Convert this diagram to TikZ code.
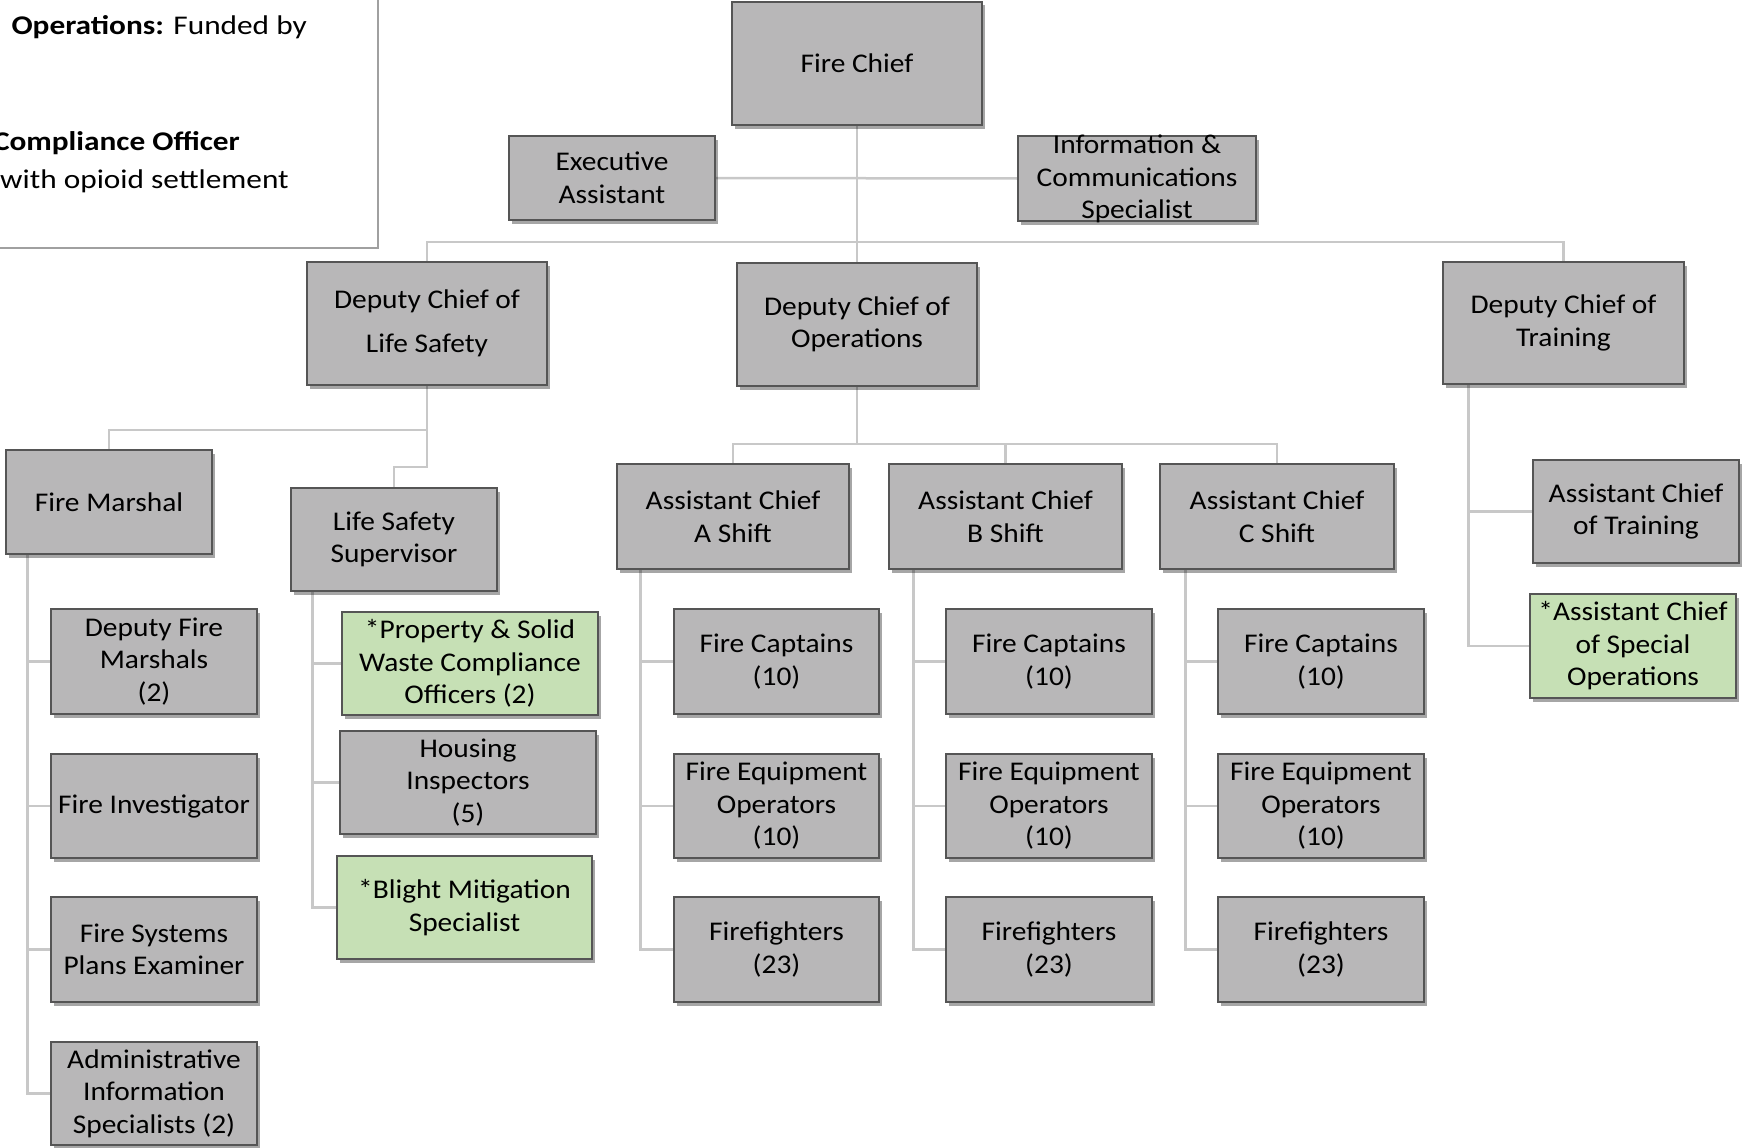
\documentclass[tikz,border=0pt]{standalone}
\usepackage{fontspec}
\setmainfont[FakeStretch=1.09]{Carlito}
\newfontfamily\legendfont[FakeStretch=1.16]{Carlito}
\usetikzlibrary{shadows,backgrounds}
\definecolor{boxgray}{RGB}{184,183,184}
\definecolor{boxgreen}{RGB}{198,224,181}
\definecolor{edgegray}{RGB}{85,85,85}
\definecolor{linkgray}{RGB}{200,200,200}
\definecolor{legendgray}{RGB}{160,160,160}
\tikzset{
  orgbox/.style={draw=edgegray, line width=1.2pt, fill=boxgray, inner sep=0pt, align=center,
    font=\fontsize{27}{32.5}\selectfont,
    drop shadow={shadow xshift=2.5pt, shadow yshift=-3.5pt, opacity=0.35, fill=black}},
  greenbox/.style={orgbox, fill=boxgreen},
  orgtext/.style={inner sep=0pt, align=center, font=\fontsize{27}{32.5}\selectfont},
  legendtext/.style={inner sep=0pt, font=\legendfont\fontsize{27}{32.5}\selectfont},
  link/.style={draw=linkgray, line width=2.5pt},
}
\begin{document}
\begin{tikzpicture}[x=1pt, y=-1pt]
\clip (0,0) rectangle (1743,1148);

% legend
\draw[legendgray, line width=2pt] (-10,-10) rectangle (378,248);
\node[legendtext, anchor=base east] (leg1) at (307,35) {\textbf{Operations:} Funded by};
\node[legendtext, anchor=base east] (leg2) at (240,150) {\textbf{Compliance Officer}};
\node[legendtext, anchor=base east] (leg3) at (289,188) {with opioid settlement};

% top level
\node[orgbox, minimum width=250pt, minimum height=123pt] (chief) at (857,63.5) {Fire Chief};
\node[orgbox, minimum width=206pt, minimum height=84pt] (exec) at (612,178) {Executive\\Assistant};
\node[orgbox, minimum width=238pt, minimum height=85pt] (info) at (1137,178.5) {};
\node[orgtext] (infotext) at (1137,179) {Information \&\\Communications\\Specialist};

% deputy chiefs
\node[orgbox, minimum width=240pt, minimum height=123pt] (dcls) at (427,323.5) {Deputy Chief of\\[12pt]Life Safety};
\node[orgbox, minimum width=240pt, minimum height=123pt] (dcops) at (857,324.5) {Deputy Chief of\\Operations};
\node[orgbox, minimum width=241pt, minimum height=122pt] (dctr) at (1563.5,323) {Deputy Chief of\\Training};

% life safety branch
\node[orgbox, minimum width=206pt, minimum height=104pt] (fm) at (109,502) {Fire Marshal};
\node[orgbox, minimum width=206pt, minimum height=103pt] (lss) at (394,539.5) {Life Safety\\Supervisor};
\node[orgbox, minimum width=206pt, minimum height=105pt] (dfm) at (154,661.5) {Deputy Fire\\Marshals\\(2)};
\node[orgbox, minimum width=206pt, minimum height=104pt] (finv) at (154,806) {Fire Investigator};
\node[orgbox, minimum width=206pt, minimum height=105pt] (fspe) at (154,949.5) {Fire Systems\\Plans Examiner};
\node[orgbox, minimum width=206pt, minimum height=103pt] (ais) at (154,1093.5) {Administrative\\Information\\Specialists (2)};
\node[greenbox, minimum width=256pt, minimum height=103pt] (psw) at (470,663.5) {*Property \& Solid\\Waste Compliance\\Officers (2)};
\node[orgbox, minimum width=256pt, minimum height=103pt] (hi) at (468,782.5) {Housing\\Inspectors\\(5)};
\node[greenbox, minimum width=255pt, minimum height=103pt] (bms) at (464.5,907.5) {*Blight Mitigation\\Specialist};

% operations branch
\node[orgbox, minimum width=232pt, minimum height=105pt] (aca) at (733,516.5) {Assistant Chief\\A Shift};
\node[orgbox, minimum width=233pt, minimum height=105pt] (acb) at (1005.5,516.5) {Assistant Chief\\B Shift};
\node[orgbox, minimum width=234pt, minimum height=105pt] (acc) at (1277,516.5) {Assistant Chief\\C Shift};

\node[orgbox, minimum width=205pt, minimum height=105pt] (fca) at (776.5,661.5) {Fire Captains\\(10)};
\node[orgbox, minimum width=205pt, minimum height=104pt] (feoa) at (776.5,806) {Fire Equipment\\Operators\\(10)};
\node[orgbox, minimum width=205pt, minimum height=105pt] (ffa) at (776.5,949.5) {Firefighters\\(23)};

\node[orgbox, minimum width=206pt, minimum height=105pt] (fcb) at (1049,661.5) {Fire Captains\\(10)};
\node[orgbox, minimum width=206pt, minimum height=104pt] (feob) at (1049,806) {Fire Equipment\\Operators\\(10)};
\node[orgbox, minimum width=206pt, minimum height=105pt] (ffb) at (1049,949.5) {Firefighters\\(23)};

\node[orgbox, minimum width=206pt, minimum height=105pt] (fcc) at (1321,661.5) {Fire Captains\\(10)};
\node[orgbox, minimum width=206pt, minimum height=104pt] (feoc) at (1321,806) {Fire Equipment\\Operators\\(10)};
\node[orgbox, minimum width=206pt, minimum height=105pt] (ffc) at (1321,949.5) {Firefighters\\(23)};

% training branch
\node[orgbox, minimum width=206pt, minimum height=103pt] (acto) at (1636,511.5) {Assistant Chief\\of Training};
\node[greenbox, minimum width=206pt, minimum height=104pt] (acso) at (1633,646) {*Assistant Chief\\of Special\\Operations};

% connectors
\coordinate (bus1) at (857,242);
\coordinate (bus2) at (427,430);
\coordinate (bus3) at (427,467);
\coordinate (bus4) at (857,444);
\begin{pgfonlayer}{background}
\draw[link] (chief) -- (dcops);
\draw[link] (exec.east) -- (info.west);
\draw[link] (dcls.north) |- (bus1) -| (dctr.north);
\draw[link] (dcls.south) -- (bus2) -| (fm.north);
\draw[link] (bus2) -- (bus3) -| (lss.north);
\draw[link] (dcops.south) -- (bus4);
\draw[link] (aca.north) |- (bus4) -| (acc.north);
\draw[link] (acb.north) -- (acb.north |- bus4);
% fire marshal spine
\draw[link] ([xshift=22pt]fm.south west) |- (dfm.west);
\draw[link] ([xshift=22pt]fm.south west) |- (finv.west);
\draw[link] ([xshift=22pt]fm.south west) |- (fspe.west);
\draw[link] ([xshift=22pt]fm.south west) |- (ais.west);
% life safety supervisor spine
\draw[link] ([xshift=22pt]lss.south west) |- (psw.west);
\draw[link] ([xshift=22pt]lss.south west) |- (hi.west);
\draw[link] ([xshift=22pt]lss.south west) |- (bms.west);
% shifts
\draw[link] ([xshift=24pt]aca.south west) |- (fca.west);
\draw[link] ([xshift=24pt]aca.south west) |- (feoa.west);
\draw[link] ([xshift=24pt]aca.south west) |- (ffa.west);
\draw[link] ([xshift=25pt]acb.south west) |- (fcb.west);
\draw[link] ([xshift=25pt]acb.south west) |- (feob.west);
\draw[link] ([xshift=25pt]acb.south west) |- (ffb.west);
\draw[link] ([xshift=26pt]acc.south west) |- (fcc.west);
\draw[link] ([xshift=26pt]acc.south west) |- (feoc.west);
\draw[link] ([xshift=26pt]acc.south west) |- (ffc.west);
% training
\draw[link] ([xshift=26pt]dctr.south west) |- (acto.west);
\draw[link] ([xshift=26pt]dctr.south west) |- (acso.west);
\end{pgfonlayer}
\end{tikzpicture}
\end{document}
